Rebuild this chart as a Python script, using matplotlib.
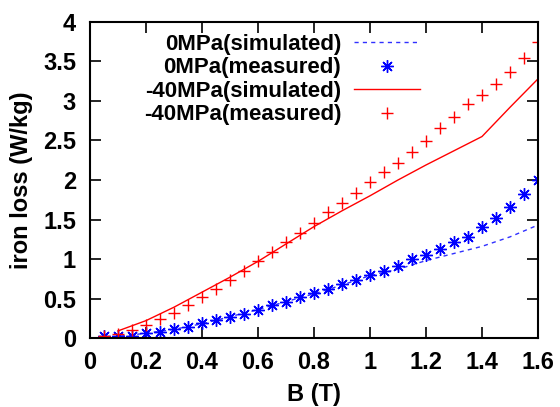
import matplotlib
matplotlib.use("Agg")
import matplotlib.pyplot as plt

plt.rcParams['font.family'] = ['Liberation Sans', 'DejaVu Sans']
plt.rcParams['font.weight'] = 'bold'

B_meas = [0.05, 0.10, 0.15, 0.20, 0.25, 0.30, 0.35, 0.40, 0.45, 0.50, 0.55, 0.60,
          0.65, 0.70, 0.75, 0.80, 0.85, 0.90, 0.95, 1.00, 1.05, 1.10, 1.15, 1.20,
          1.25, 1.30, 1.35, 1.40, 1.45, 1.50, 1.55, 1.60]
loss0_meas = [0.02, 0.02, 0.03, 0.06, 0.08, 0.11, 0.14, 0.185, 0.23, 0.27, 0.31, 0.36,
              0.42, 0.46, 0.515, 0.565, 0.62, 0.68, 0.73, 0.80, 0.85, 0.915, 1.00, 1.05,
              1.13, 1.21, 1.28, 1.40, 1.52, 1.66, 1.82, 2.00]
loss40_meas = [0.02, 0.05, 0.10, 0.17, 0.24, 0.32, 0.42, 0.52, 0.62, 0.73, 0.85, 0.97,
               1.09, 1.21, 1.325, 1.45, 1.59, 1.71, 1.83, 1.97, 2.10, 2.22, 2.36, 2.49,
               2.66, 2.80, 2.96, 3.08, 3.21, 3.37, 3.55, 3.75]

B_sim0 = [0.05, 0.1, 0.2, 0.3, 0.4, 0.5, 0.6, 0.7, 0.8, 0.9, 1.0, 1.1, 1.2, 1.3, 1.4, 1.5, 1.6]
loss0_sim = [0.01, 0.02, 0.06, 0.11, 0.18, 0.27, 0.36, 0.46, 0.56, 0.67, 0.79, 0.87,
             0.98, 1.07, 1.16, 1.28, 1.43]
B_sim40 = [0.1, 0.2, 0.3, 0.4, 0.5, 0.6, 0.7, 0.8, 0.9, 1.0, 1.1, 1.2, 1.3, 1.4, 1.5, 1.6]
loss40_sim = [0.09, 0.22, 0.39, 0.58, 0.77, 0.97, 1.19, 1.41, 1.61, 1.80, 2.00, 2.19,
              2.37, 2.55, 2.92, 3.28]

xticks = [0, 0.2, 0.4, 0.6, 0.8, 1.0, 1.2, 1.4, 1.6]
xticklabels = ['0', '0.2', '0.4', '0.6', '0.8', '1', '1.2', '1.4', '1.6']
yticks = [0, 0.5, 1, 1.5, 2, 2.5, 3, 3.5, 4]
yticklabels = ['0', '0.5', '1', '1.5', '2', '2.5', '3', '3.5', '4']

fig = plt.figure(figsize=(5.6, 4.07), dpi=100)
ax = fig.add_axes([0.1607, 0.1695, 0.8, 0.7765])

blue = '#0000ff'
red = '#ff0000'
ax.plot(B_sim0, loss0_sim, color='#3030ff', lw=1.0, ls=(0, (3, 3)), label='0MPa(simulated)')
ax.plot(B_meas, loss0_meas, ls='none', marker=(8, 2, 0), ms=9, mew=1.0, color=blue,
        label='0MPa(measured)')
ax.plot(B_sim40, loss40_sim, color=red, lw=1.0, label='-40MPa(simulated)')
ax.plot(B_meas, loss40_meas, ls='none', marker='+', ms=9, mew=1.0, color=red,
        label='-40MPa(measured)')

ax.set_xlim(0, 1.6)
ax.set_ylim(0, 4)
ax.set_xticks(xticks)
ax.set_xticklabels(xticklabels)
ax.set_yticks(yticks)
ax.set_yticklabels(yticklabels)
ax.tick_params(direction='in', length=8, width=1.2, top=True, right=True,
               labelsize=17, colors='black')
ax.tick_params(axis='x', pad=9)
ax.tick_params(axis='y', pad=10)
for s in ax.spines.values():
    s.set_linewidth(1.5)

ax.set_xlabel('B (T)', fontsize=17, fontweight='bold')
ax.set_ylabel('iron loss (W/kg)', fontsize=17, fontweight='bold')
ax.xaxis.set_label_coords(0.5, -0.142)
ax.yaxis.set_label_coords(-0.127, 0.5)

leg = ax.legend(loc='upper right', bbox_to_anchor=(0.737, 0.962), frameon=False,
                markerfirst=False, fontsize=16, handlelength=3.0, labelspacing=0.11,
                handletextpad=0.55, borderaxespad=0, borderpad=0)
fig.savefig('out.png', dpi=100)
